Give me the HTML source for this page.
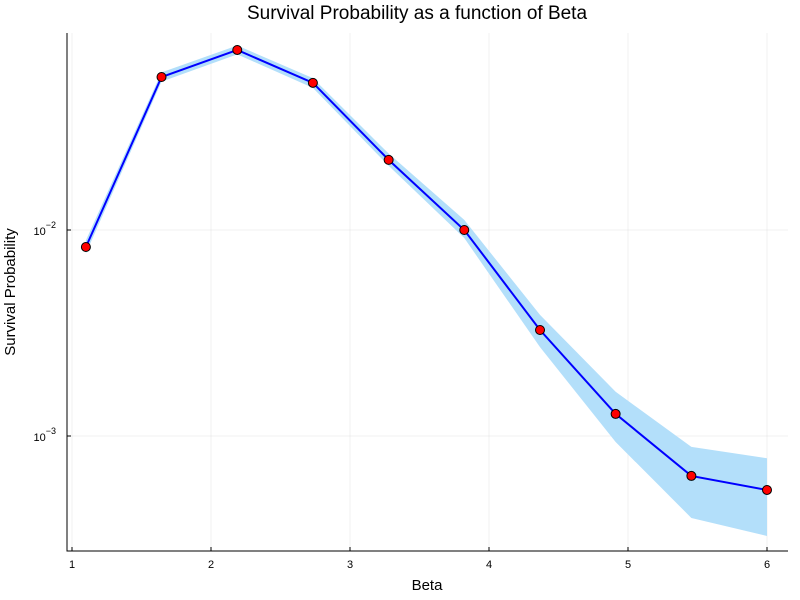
<!DOCTYPE html>
<html><head><meta charset="utf-8"><style>
body{margin:0;background:#fff}
svg{display:block;font-family:"Liberation Sans","DejaVu Sans",sans-serif}
</style></head><body>
<svg id="c" width="800" height="600" viewBox="0 0 800 600">
<rect width="800" height="600" fill="#fff"/>
<text x="417" y="19" text-anchor="middle" font-size="19" fill="#000">Survival Probability as a function of Beta</text>
<text x="427" y="590" text-anchor="middle" font-size="15">Beta</text>
<text transform="translate(15,292) rotate(-90)" text-anchor="middle" font-size="15">Survival Probability</text>
<g id="grid"></g>
<g id="band"></g>
<g id="line"></g>
<g id="pts"></g>
<g id="axes"></g>
</svg>
<script>
const betas=[1.1,1.644,2.189,2.733,3.278,3.822,4.367,4.911,5.456,6.0];
const probs=[0.00827,0.0553,0.0748,0.0518,0.0219,0.0100,0.00327,0.00128,0.00064,0.000547];
const lower=[0.0077,0.0525,0.0712,0.049,0.0205,0.00914,0.0027,0.000935,0.0004,0.000327];
const upper=[0.0089,0.0582,0.0786,0.0546,0.0235,0.0112,0.00387,0.00164,0.000885,0.00078];
const xTicks=[1,2,3,4,5,6];
const yTicks=[-2,-3];
const NS="http://www.w3.org/2000/svg";
const L=67,R=788,T=33,B=551;
function sx(v){return 72+(v-1)*139;}
function sy(v){return 230-(Math.log10(v)+2)*206;}
function mk(tag,attrs,parent){const e=document.createElementNS(NS,tag);for(const k in attrs)e.setAttribute(k,attrs[k]);document.getElementById(parent).appendChild(e);return e;}
xTicks.forEach(t=>{
  const g=mk('line',{x1:sx(t),x2:sx(t),y1:T,y2:B,stroke:'#000','stroke-opacity':0.1,'stroke-width':0.5},'grid');
  
  
  const tk=mk('line',{x1:sx(t),x2:sx(t),y1:B,y2:B-4,stroke:'#000'},'axes');
  
  
  const tx=mk('text',{x:sx(t),y:568,'text-anchor':'middle','font-size':11},'axes');
  tx.textContent=t;
  
  
});
yTicks.forEach(t=>{
  const y=sy(Math.pow(10,t));
  const g=mk('line',{x1:L,x2:R,y1:y,y2:y,stroke:'#000','stroke-opacity':0.1,'stroke-width':0.5},'grid');
  
  
  const tk=mk('line',{x1:L,x2:L+4,y1:y,y2:y,stroke:'#000'},'axes');
  
  
  const tx=mk('text',{x:56,y:y+5,'text-anchor':'end','font-size':11},'axes');
  tx.innerHTML='10<tspan dy="-7" font-size="9">\u2212'+Math.abs(t)+'</tspan>';
  
  
});
const ax=mk('path',{d:`M${L},${T}V${B}H${R}`,fill:'none',stroke:'#000','stroke-width':1},'axes');


let bd=betas.map((b,i)=>(i?'L':'M')+sx(b)+','+sy(upper[i])).join('');
for(let i=betas.length-1;i>=0;i--)bd+='L'+sx(betas[i])+','+sy(lower[i]);
const band=mk('path',{d:bd+'Z',fill:'#b3dffa',stroke:'none'},'band');


const ln=mk('polyline',{points:betas.map((b,i)=>sx(b)+','+sy(probs[i])).join(' '),fill:'none',stroke:'#0000ff','stroke-width':2},'line');


betas.forEach((b,i)=>{
  const c=mk('circle',{cx:sx(b),cy:sy(probs[i]),r:4.5,fill:'#ff0000',stroke:'#000','stroke-width':1},'pts');
  
  
});
</script>
</body></html>
